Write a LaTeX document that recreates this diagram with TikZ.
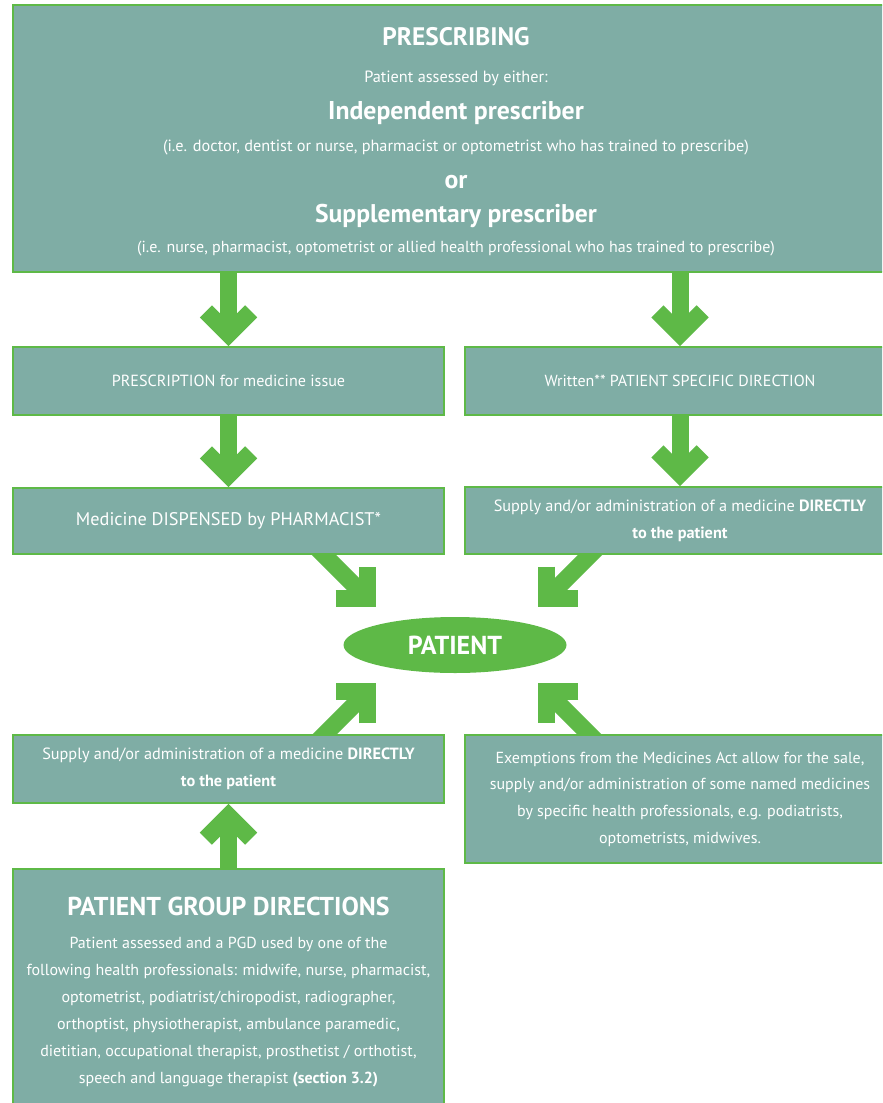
\documentclass[tikz,border=0pt]{standalone}
\usepackage{fontspec}
\setmainfont{PT Sans}
\usetikzlibrary{calc,backgrounds,shapes.geometric}

\definecolor{boxfill}{RGB}{127,173,165}
\definecolor{leaf}{RGB}{94,185,71}

\tikzset{
  box/.style={draw=leaf, fill=boxfill, line width=1.5pt, text=white,
    align=center, inner sep=0pt},
  txt/.style={text=white, align=center, inner sep=0pt, anchor=base},
  shaft/.style={leaf, line width=12.75pt, line cap=butt},
  barb/.style={leaf, line width=12.75pt, line cap=butt, line join=miter},
}

% big green arrow: #1 start, #2 tip
\newcommand\bigarrow[2]{%
  \coordinate (v0) at ($(#2)!9pt!(#1)$);
  \draw[shaft] (#1) -- (v0);
  \draw[barb] ($(v0)!24pt!45:(#1)$) -- (v0) -- ($(v0)!24pt!-45:(#1)$);
}

\begin{document}
\begin{tikzpicture}[x=0.75pt,y=-0.75pt]
  \useasboundingbox (0,0) rectangle (882,1103);
  \clip (0,0) rectangle (882,1103);

  % prescribing box
  \node[box, minimum width=886*0.75pt, minimum height=267*0.75pt] (presc) at (456,138.5) {};
  \node[txt, font=\bfseries\fontsize{19}{19}\selectfont] (t1) at (456,45) {PRESCRIBING};
  \node[txt, font=\fontsize{12.2}{12}\selectfont] (t2) at (456,82) {Patient assessed by either:};
  \node[txt, font=\bfseries\fontsize{19.3}{20}\selectfont] (t3) at (456,119) {Independent prescriber};
  \node[txt, font=\fontsize{12.2}{13}\selectfont] (t4) at (456,151) {(i.e. doctor, dentist or nurse, pharmacist or optometrist who has trained to prescribe)};
  \node[txt, font=\bfseries\fontsize{19.3}{20}\selectfont] (t5) at (456,188) {or};
  \node[txt, font=\bfseries\fontsize{19.2}{20}\selectfont] (t6) at (456,222) {Supplementary prescriber};
  \node[txt, font=\fontsize{12}{13}\selectfont] (t7) at (456,252) {(i.e. nurse, pharmacist, optometrist or allied health professional who has trained to prescribe)};

  % middle rows
  \node[box, minimum width=431*0.75pt, minimum height=68*0.75pt, font=\fontsize{12.1}{15}\selectfont] (rx) at (228.5,381) {PRESCRIPTION for medicine issue};
  \node[box, minimum width=430*0.75pt, minimum height=68*0.75pt, font=\fontsize{12}{15}\selectfont] (psd) at (680,381) {Written** PATIENT SPECIFIC DIRECTION};
  \node[box, minimum width=431*0.75pt, minimum height=66*0.75pt, font=\fontsize{13.7}{20}\selectfont] (disp) at (228.5,521) {Medicine DISPENSED by PHARMACIST*};
  \node[box, minimum width=430*0.75pt, minimum height=67*0.75pt, font=\fontsize{12.2}{20}\selectfont] (dir1) at (680,520.5) {Supply and/or administration of a medicine \textbf{DIRECTLY}\\\textbf{to the patient}};

  \node[ellipse, fill=leaf, inner sep=0pt, minimum width=223*0.75pt, minimum height=56*0.75pt, text=white, font=\bfseries\fontsize{19.5}{20}\selectfont] (pat) at (455,645) {PATIENT};

  % lower rows
  \node[box, minimum width=431*0.75pt, minimum height=68*0.75pt, font=\fontsize{12.2}{20}\selectfont] (dir2) at (228.5,769) {Supply and/or administration of a medicine \textbf{DIRECTLY}\\\textbf{to the patient}};
  \node[box, minimum width=430*0.75pt, minimum height=128*0.75pt, font=\fontsize{12}{20}\selectfont] (exempt) at (680,799) {Exemptions from the Medicines Act allow for the sale,\\supply and/or administration of some named medicines\\by specific health professionals, e.g. podiatrists,\\optometrists, midwives.};
  \node[box, minimum width=431*0.75pt, minimum height=246*0.75pt, font=\fontsize{12}{20.25}\selectfont] (pgd) at (228.5,992) {{\bfseries\fontsize{19.4}{20}\selectfont PATIENT GROUP DIRECTIONS}\\[4pt]
    Patient assessed and a PGD used by one of the\\
    following health professionals: midwife, nurse, pharmacist,\\
    optometrist, podiatrist/chiropodist, radiographer,\\
    orthoptist, physiotherapist, ambulance paramedic,\\
    dietitian, occupational therapist, prosthetist / orthotist,\\
    speech and language therapist \textbf{(section 3.2)}};

  \coordinate (ta) at ($(pat.center)+(-79,-38)$);
  \coordinate (tb) at ($(pat.center)+(83,-38)$);
  \coordinate (tc) at ($(pat.center)+(-79,38)$);
  \coordinate (td) at ($(pat.center)+(83,38)$);
  \coordinate (sa) at ($(ta)+(-62,-62)$);
  \coordinate (sb) at ($(tb)+(62,-62)$);
  \coordinate (sc) at ($(tc)+(-62,62)$);
  \coordinate (sd) at ($(td)+(62,62)$);

  \begin{scope}[on background layer]
    \fill[white] (0,0) rectangle (882,1103);
    \bigarrow{presc.south -| rx.north}{rx.north}
    \bigarrow{presc.south -| psd.north}{psd.north}
    \bigarrow{rx.south}{disp.north}
    \bigarrow{psd.south}{dir1.north}
    \bigarrow{sa}{ta}
    \bigarrow{sb}{tb}
    \bigarrow{sc}{tc}
    \bigarrow{sd}{td}
    \bigarrow{pgd.north}{dir2.south}
  \end{scope}
\end{tikzpicture}
\end{document}
